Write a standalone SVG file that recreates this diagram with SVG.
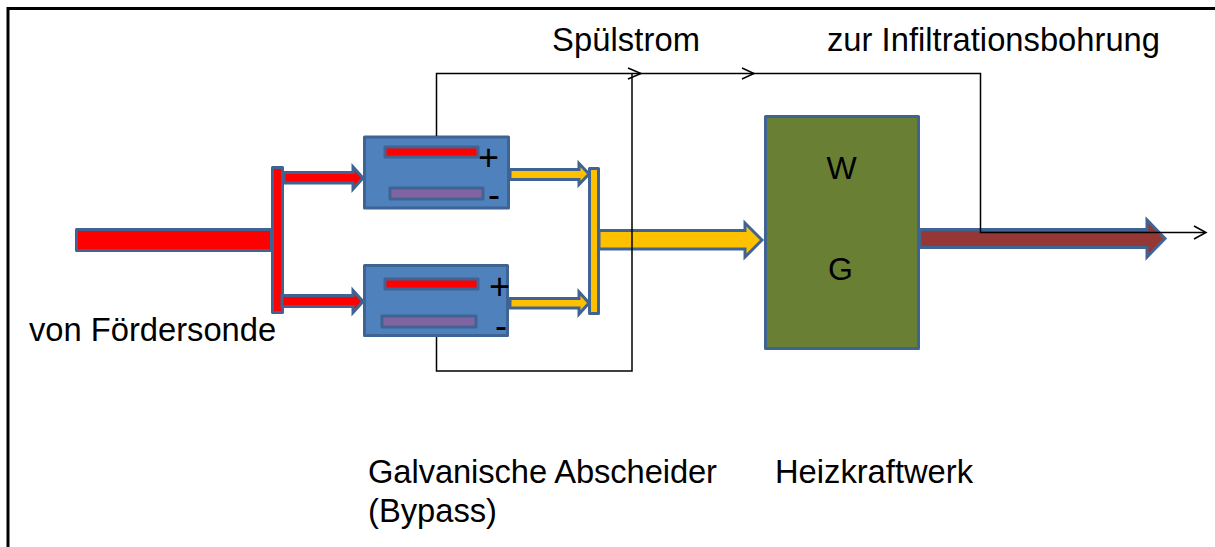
<svg xmlns="http://www.w3.org/2000/svg" width="1215" height="547" viewBox="0 0 1215 547">
<style>
text{font-family:"Liberation Sans",Arial,sans-serif;fill:#000;font-size:32.700px}
.s{stroke:#3f6493;stroke-width:3;stroke-linejoin:round}
.a{stroke:#3f6493;stroke-width:3;stroke-linejoin:miter}
.r{fill:#f00}.y{fill:#ffc000}.b{fill:#4f81bd}.p{fill:#8064a2}
.l{fill:none;stroke:#000;stroke-width:1.500}
.pm{font-size:36px}
</style>
<rect width="1215" height="547" fill="#fff"/>
<path d="M8 547V8.500H1215" fill="none" stroke="#000" stroke-width="3"/>
<g id="input"><rect class="s r" x="76.500" y="229.500" width="195" height="21"/></g>
<g id="red-manifold"><rect class="s r" x="272.500" y="167.500" width="10" height="145"/></g>
<g id="yellow-manifold"><rect class="s y" x="589.500" y="168.500" width="9" height="145"/></g>
<g id="arrows">
<path class="a r" d="M284 172.500H353V167L363 178L353 189V183H284Z"/>
<path class="a r" d="M282 295.500H353V290.500L363 301.500L353 312.500V306.500H282Z"/>
<path class="a y" d="M510 169.500H579V163.500L589 174L579 184.500V179.500H510Z"/>
<path class="a y" d="M510 298.500H579V292L589 303L579 314V308H510Z"/>
<path class="a y" d="M599 230.500H745V223L762 240L745 257V249H599Z"/>
<path class="a" style="fill:#953735" d="M920 229.500H1147V220L1165 238.500L1147 257V247.500H920Z"/>
</g>
<g id="separator-1">
<rect class="s b" x="364.500" y="137" width="144" height="71"/>
<rect class="s r" x="385" y="147" width="93" height="10"/>
<rect class="s p" x="390" y="188" width="93" height="11"/>
<text class="pm" x="478" y="170">+</text>
<text class="pm" x="488" y="207">-</text>
</g>
<g id="separator-2">
<rect class="s b" x="364.500" y="265.500" width="143" height="70"/>
<rect class="s r" x="385" y="279" width="93" height="10"/>
<rect class="s p" x="382" y="316" width="94" height="11"/>
<text class="pm" x="489" y="299">+</text>
<text class="pm" x="495" y="338">-</text>
</g>
<g id="plant">
<rect class="s" style="fill:#687f34" x="765.500" y="116.500" width="153" height="232"/>
<text x="826.500" y="179" style="font-size:32px">W</text>
<text x="828" y="280" style="font-size:32px">G</text>
</g>
<g id="connectors">
<path class="l" d="M436.500 136V73.500H980.500V232.500H1205"/>
<path class="l" d="M436.500 337V371H632V73.500"/>
<path class="l" d="M628 68L641 73.500L628 79"/>
<path class="l" d="M742 68L754 73.500L742 79"/>
<path class="l" d="M1194 226L1206 232.500L1194 239"/>
</g>
<g id="labels">
<text x="552" y="51" textLength="148">Spülstrom</text>
<text x="827" y="51" textLength="333">zur Infiltrationsbohrung</text>
<text x="29" y="341">von Fördersonde</text>
<text x="368" y="483" textLength="349">Galvanische Abscheider</text>
<text x="368" y="522">(Bypass)</text>
<text x="775" y="483">Heizkraftwerk</text>
</g>
</svg>
